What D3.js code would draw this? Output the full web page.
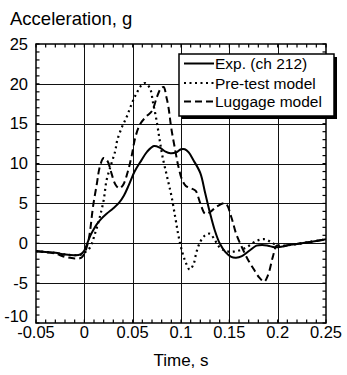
<!DOCTYPE html>
<html>
<head>
<meta charset="utf-8">
<script src="https://cdn.jsdelivr.net/npm/d3@7/dist/d3.min.js"></script>
<style>
  html, body { margin: 0; padding: 0; background: #fff; }
  svg { display: block; }
  text { font-family: "Liberation Sans", Arial, sans-serif; fill: #000; }
</style>
</head>
<body>
<svg id="chart" width="347" height="375"></svg>
<script>
// Axis tick values
const xTicks = [-0.05, 0, 0.05, 0.1, 0.15, 0.2, 0.25];
const yTicks = [-10, -5, 0, 5, 10, 15, 20, 25];
const xTickLabels = ["-0.05", "0", "0.05", "0.1", "0.15", "0.2", "0.25"];
const yTickLabels = ["-10", "-5", "0", "5", "10", "15", "20", "25"];

// Series names
const seriesNames = ["Exp. (ch 212)", "Pre-test model", "Luggage model"];

// Experiment (ch 212): time [s], acceleration [g]
const expTime = [-0.05, -0.04, -0.03, -0.02, -0.01, -0.004, 0.0, 0.003, 0.006, 0.009, 0.013, 0.017, 0.023, 0.030, 0.036, 0.041, 0.046, 0.052, 0.059, 0.065, 0.072, 0.078, 0.084, 0.089, 0.095, 0.100, 0.104, 0.108, 0.113, 0.120, 0.125, 0.130, 0.135, 0.140, 0.146, 0.152, 0.157, 0.163, 0.171, 0.178, 0.184, 0.190, 0.197, 0.205, 0.213, 0.225, 0.235, 0.25];
const expAcc  = [-1.0, -1.1, -1.2, -1.4, -1.5, -1.4, -0.9, 0.0, 0.9, 1.6, 2.4, 3.0, 3.7, 4.4, 5.1, 6.0, 7.3, 9.0, 10.4, 11.5, 12.2, 12.0, 11.5, 11.3, 11.4, 11.8, 11.8, 11.4, 10.4, 8.8, 6.3, 3.8, 1.6, 0.0, -1.1, -1.7, -1.8, -1.6, -0.9, -0.3, -0.2, -0.3, -0.5, -0.4, -0.2, 0.0, 0.2, 0.5];

// Pre-test model
const preTime = [-0.05, -0.03, -0.02, -0.01, -0.003, 0.002, 0.006, 0.011, 0.016, 0.020, 0.023, 0.028, 0.032, 0.034, 0.039, 0.044, 0.049, 0.054, 0.059, 0.063, 0.068, 0.071, 0.075, 0.078, 0.081, 0.0855, 0.090, 0.094, 0.097, 0.100, 0.104, 0.109, 0.113, 0.116, 0.120, 0.125, 0.130, 0.135, 0.140, 0.147, 0.157, 0.168, 0.178, 0.187, 0.195, 0.200, 0.205, 0.213, 0.225, 0.235, 0.25];
const preAcc  = [-1.0, -1.2, -1.4, -1.5, -1.4, -1.0, -0.5, 1.2, 3.3, 5.4, 7.9, 10.0, 11.6, 12.9, 14.6, 15.9, 17.5, 18.8, 19.8, 20.1, 19.4, 17.7, 15.2, 12.9, 10.8, 8.4, 6.0, 3.3, 1.2, -0.5, -2.1, -3.3, -2.6, -1.1, 0.2, 1.0, 1.2, 0.4, -0.5, -1.0, -1.0, -0.5, 0.3, 0.5, 0.0, -0.3, -0.35, -0.2, 0.0, 0.2, 0.5];

// Luggage model
const lugTime = [-0.05, -0.04, -0.03, -0.02, -0.01, -0.003, 0.001, 0.004, 0.006, 0.009, 0.013, 0.016, 0.020, 0.024, 0.028, 0.032, 0.036, 0.040, 0.045, 0.049, 0.053, 0.058, 0.064, 0.070, 0.075, 0.079, 0.082, 0.085, 0.087, 0.090, 0.094, 0.097, 0.101, 0.105, 0.110, 0.115, 0.120, 0.125, 0.130, 0.137, 0.146, 0.152, 0.157, 0.163, 0.169, 0.175, 0.181, 0.186, 0.190, 0.195, 0.199, 0.205, 0.213, 0.225, 0.235, 0.25];
const lugAcc  = [-1.0, -1.1, -1.3, -1.7, -1.9, -1.8, -1.0, 0.2, 1.6, 4.6, 7.5, 9.6, 10.7, 10.3, 8.8, 7.4, 6.9, 7.3, 9.0, 11.0, 13.4, 15.0, 15.9, 16.6, 18.3, 19.4, 19.6, 18.3, 17.1, 14.4, 11.7, 9.8, 8.0, 7.2, 6.9, 6.6, 5.0, 3.7, 3.9, 4.6, 5.0, 3.3, 1.2, -0.5, -2.0, -3.2, -4.3, -4.8, -4.0, -1.7, -0.3, -0.3, -0.2, 0.0, 0.2, 0.5];

const svg = d3.select("#chart");
const plot = { left: 36, right: 326, top: 44, bottom: 323 };

const x = d3.scaleLinear().domain([-0.05, 0.25]).range([plot.left, plot.right]);
const y = d3.scaleLinear().domain([-10, 25]).range([plot.bottom, plot.top]);

// Y axis title
svg.append("text")
  .attr("x", 10).attr("y", 25)
  .style("font-size", "18.5px")
  .text("Acceleration, g");

// Gridlines at major ticks
const grid = svg.append("g").attr("stroke", "#111").attr("stroke-width", 1);
grid.selectAll("line.gx").data(xTicks.slice(1, -1)).join("line")
  .attr("x1", d => Math.round(x(d)) + 0.5).attr("x2", d => Math.round(x(d)) + 0.5)
  .attr("y1", plot.top).attr("y2", plot.bottom);
grid.selectAll("line.gy").data(yTicks.slice(1, -1)).join("line")
  .attr("x1", plot.left).attr("x2", plot.right)
  .attr("y1", d => Math.round(y(d)) + 0.5).attr("y2", d => Math.round(y(d)) + 0.5);

// Minor ticks on all four sides, pointing inward
const xMinor = d3.range(-0.05, 0.2501, 0.01);
const yMinor = d3.range(-10, 25.01, 1);
const tk = svg.append("g").attr("stroke", "#000").attr("stroke-width", 1.2);
const tl = 3.5;
tk.selectAll("line.bt").data(xMinor).join("line")
  .attr("x1", d => x(d)).attr("x2", d => x(d))
  .attr("y1", plot.bottom).attr("y2", plot.bottom - tl);
tk.selectAll("line.tt").data(xMinor).join("line")
  .attr("x1", d => x(d)).attr("x2", d => x(d))
  .attr("y1", plot.top).attr("y2", plot.top + tl);
tk.selectAll("line.lt").data(yMinor).join("line")
  .attr("x1", plot.left).attr("x2", plot.left + tl)
  .attr("y1", d => y(d)).attr("y2", d => y(d));
tk.selectAll("line.rt").data(yMinor).join("line")
  .attr("x1", plot.right).attr("x2", plot.right - tl)
  .attr("y1", d => y(d)).attr("y2", d => y(d));

// Tick labels
svg.append("g").selectAll("text").data(xTicks).join("text")
  .attr("x", d => x(d)).attr("y", 338)
  .attr("text-anchor", "middle")
  .style("font-size", "16.5px")
  .text((d, i) => xTickLabels[i]);
// the lowest y label is nudged up to clear the first x label
svg.append("g").selectAll("text").data(yTicks).join("text")
  .attr("x", 28).attr("y", d => y(d) + (d === -10 ? -7 : 0))
  .attr("dy", "0.35em")
  .attr("text-anchor", "end")
  .style("font-size", "16.5px")
  .text((d, i) => yTickLabels[i]);

// X axis title
svg.append("text")
  .attr("x", (plot.left + plot.right) / 2).attr("y", 366)
  .attr("text-anchor", "middle")
  .style("font-size", "17px")
  .text("Time, s");

// Series lines
svg.append("clipPath").attr("id", "clip").append("rect")
  .attr("x", plot.left).attr("y", plot.top)
  .attr("width", plot.right - plot.left).attr("height", plot.bottom - plot.top);

const line = d3.line()
  .x(d => x(d[0])).y(d => y(d[1]))
  .curve(d3.curveCatmullRom.alpha(0.5));

const series = [
  { name: seriesNames[0], pts: d3.zip(expTime, expAcc), dash: null, width: 2 },
  { name: seriesNames[1], pts: d3.zip(preTime, preAcc), dash: "2,3.5", width: 2.2 },
  { name: seriesNames[2], pts: d3.zip(lugTime, lugAcc), dash: "7,4", width: 2 }
];

const lines = svg.append("g").attr("clip-path", "url(#clip)");
series.forEach(s => {
  lines.append("path")
    .datum(s.pts)
    .attr("d", line)
    .attr("fill", "none")
    .attr("stroke", "#000")
    .attr("stroke-width", s.width)
    .attr("stroke-dasharray", s.dash);
});

// Frame
svg.append("rect")
  .attr("x", plot.left).attr("y", plot.top)
  .attr("width", plot.right - plot.left).attr("height", plot.bottom - plot.top)
  .attr("fill", "none").attr("stroke", "#000").attr("stroke-width", 1.5);

// Legend with drop shadow
const lg = { x: 179, y: 54, w: 155, h: 62 };
svg.append("rect")
  .attr("x", lg.x + 3).attr("y", lg.y + 3).attr("width", lg.w).attr("height", lg.h)
  .attr("fill", "#000");
svg.append("rect")
  .attr("x", lg.x).attr("y", lg.y).attr("width", lg.w).attr("height", lg.h)
  .attr("fill", "#fff").attr("stroke", "#000").attr("stroke-width", 1.5);

const rowY = [63.5, 83, 101.5];
const legend = svg.append("g").selectAll("g").data(series).join("g")
  .attr("transform", (d, i) => `translate(0,${rowY[i]})`);
legend.append("line")
  .attr("x1", 184).attr("x2", 214).attr("y1", 0).attr("y2", 0)
  .attr("stroke", "#000")
  .attr("stroke-width", d => d.width)
  .attr("stroke-dasharray", d => d.dash);
legend.append("text")
  .attr("x", 215).attr("y", 0).attr("dy", "0.36em")
  .style("font-size", "15.5px")
  .text(d => d.name);
</script>
</body>
</html>
